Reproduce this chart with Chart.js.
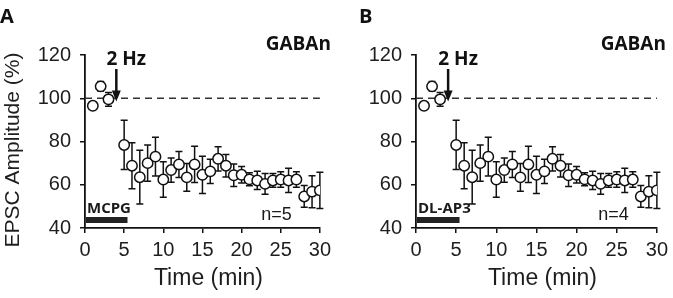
<!DOCTYPE html>
<html>
<head>
<meta charset="utf-8">
<script src="https://cdn.jsdelivr.net/npm/chart.js@4.4.1/dist/chart.umd.min.js"></script>
<style>
  html, body { margin: 0; padding: 0; background: #fff; }
  #wrap { position: relative; width: 673px; height: 298px; overflow: hidden; }
  .panel { position: absolute; top: 0; }
</style>
</head>
<body>
<div id="wrap">
  <div class="panel" style="left:0px"><canvas id="cA" width="336" height="298"></canvas></div>
  <div class="panel" style="left:336px"><canvas id="cB" width="337" height="298"></canvas></div>
</div>
<script>
// ---------- data ----------
const timeMin = [1, 2, 3, 5, 6, 7, 8, 9, 10, 11, 12, 13, 14, 15, 16, 17, 18, 19, 20, 21, 22, 23, 24, 25, 26, 27, 28, 29, 30];

// Panel A (MCPG, n=5)
const meanA = [96.5, 105.5, 99.5, 78.4, 68.8, 63.5, 70, 73, 62.4, 66.8, 69.4, 63.4, 69.4, 64.6, 66.2, 72, 68.8, 64.4, 64.6, 62.5, 62, 60.4, 62, 62.4, 62, 62.4, 54.6, 56.8, 57.4];
const semA  = [1.6, 2.2, 3.2, 11.4, 10.6, 12.4, 8.4, 9, 8.2, 5.6, 6, 6.4, 8.4, 8.6, 5.6, 5.6, 5.2, 5.2, 3.8, 3, 4.2, 4.8, 3.2, 3.6, 5.6, 3.6, 5, 7.4, 8.4];

// Panel B (DL-AP3, n=4)
const meanB = [96.5, 105.5, 99.5, 78.4, 68.8, 63.5, 70, 73, 62.4, 66.8, 69.4, 63.4, 69.4, 64.6, 66.2, 72, 68.8, 64.4, 64.6, 62.5, 62, 60.4, 62, 62.4, 62, 62.4, 54.6, 56.8, 57.4];
const semB  = [1.6, 2.2, 3.2, 11.4, 10.6, 12.4, 8.4, 9, 8.2, 5.6, 6, 6.4, 8.4, 8.6, 5.6, 5.6, 5.2, 5.2, 3.8, 3, 4.2, 4.8, 3.2, 3.6, 5.6, 3.6, 5, 7.4, 8.4];

const xTicks = [0, 5, 10, 15, 20, 25, 30];
const yTicks = [40, 60, 80, 100, 120];
const baseline = 100;
const stimTime = 4;           // "2 Hz" arrow position (min)
const drugPeriod = [0, 5.3];  // drug application bar (min)

// ---------- helpers ----------
const TXT = '#1e1e1e';
const SANS = '"Liberation Sans", Arial, sans-serif';
const BOLD = '"Open Sans", "Liberation Sans", sans-serif';

const errorBarPlugin = {
  id: 'errbars',
  beforeDatasetsDraw(chart, args, opts) {
    const ctx = chart.ctx, xs = chart.scales.x, ys = chart.scales.y;
    const ds = chart.data.datasets[opts.index];
    ctx.save();
    ctx.strokeStyle = '#111';
    ctx.lineWidth = 1.5;
    ds.data.forEach((p, i) => {
      const e = opts.err[i];
      const x = xs.getPixelForValue(p.x);
      const y1 = ys.getPixelForValue(p.y + e), y2 = ys.getPixelForValue(p.y - e);
      ctx.beginPath();
      ctx.moveTo(x, y1); ctx.lineTo(x, y2);
      ctx.moveTo(x - 3.5, y1); ctx.lineTo(x + 3.5, y1);
      ctx.moveTo(x - 3.5, y2); ctx.lineTo(x + 3.5, y2);
      ctx.stroke();
    });
    ctx.restore();
  }
};

const annotPlugin = {
  id: 'annot',
  afterDraw(chart, args, o) {
    const ctx = chart.ctx, xs = chart.scales.x, ys = chart.scales.y, ca = chart.chartArea;
    ctx.save();
    // drug bar
    const bx1 = xs.getPixelForValue(drugPeriod[0]), bx2 = xs.getPixelForValue(drugPeriod[1]);
    ctx.fillStyle = '#222';
    ctx.fillRect(bx1 + 1, ca.bottom - 11, bx2 - bx1, 6);
    // drug label
    ctx.fillStyle = '#1a1a1a';
    ctx.font = 'bold 15px ' + BOLD;
    ctx.textAlign = 'left'; ctx.textBaseline = 'alphabetic';
    ctx.fillText(o.drug, bx1 + 2, ca.bottom - 15);
    // n label
    ctx.font = '18px ' + SANS;
    ctx.textAlign = 'right';
    ctx.fillText(o.n, ca.right - 28, ca.bottom - 8);
    // arrow
    const ax = xs.getPixelForValue(stimTime);
    const tip = ys.getPixelForValue(baseline - 1.5);
    ctx.strokeStyle = '#111'; ctx.fillStyle = '#111';
    ctx.lineWidth = 2.5;
    ctx.beginPath(); ctx.moveTo(ax, 69); ctx.lineTo(ax, tip - 8); ctx.stroke();
    ctx.beginPath(); ctx.moveTo(ax - 4.5, tip - 11); ctx.lineTo(ax + 4.5, tip - 11); ctx.lineTo(ax, tip); ctx.closePath(); ctx.fill();
    // 2 Hz
    ctx.font = 'bold 19px ' + BOLD;
    ctx.textAlign = 'center'; ctx.textBaseline = 'alphabetic';
    ctx.fillText('2 Hz', ax + 10, 65);
    // GABAn
    ctx.font = 'bold 19px ' + BOLD;
    ctx.textAlign = 'right';
    ctx.fillText('GABAn', ca.right + o.gabaDx, 50);
    // panel letter
    ctx.font = 'bold 20px ' + BOLD;
    ctx.textAlign = 'left';
    ctx.fillText(o.letter, o.letterX, 23);
    // axis titles
    ctx.fillStyle = TXT;
    ctx.font = '23px ' + SANS;
    ctx.textAlign = 'center'; ctx.textBaseline = 'middle';
    ctx.fillText('Time (min)', (ca.left + ca.right) / 2 + 6, 279);
    if (o.yTitle) {
      ctx.save();
      ctx.translate(13, 150);
      ctx.rotate(-Math.PI / 2);
      ctx.font = '21px ' + SANS;
      ctx.fillText(o.yTitle, 0, 0);
      ctx.restore();
    }
    ctx.restore();
  }
};

function makeChart(id, mean, sem, geom, annot) {
  const pts = timeMin.map((t, i) => ({ x: t, y: mean[i] }));
  return new Chart(document.getElementById(id), {
    type: 'scatter',
    data: {
      datasets: [
        {
          data: pts,
          pointRadius: 5.2,
          pointBackgroundColor: '#fff',
          pointBorderColor: '#111',
          pointBorderWidth: 1.5,
          showLine: false,
          order: 1
        },
        {
          type: 'line',
          data: [{ x: 0, y: baseline }, { x: 30, y: baseline }],
          borderColor: '#333',
          borderWidth: 1.3,
          borderDash: [7, 5],
          pointRadius: 0,
          order: 2
        }
      ]
    },
    options: {
      responsive: false,
      devicePixelRatio: 1,
      animation: false,
      events: [],
      layout: { padding: { top: 55, right: geom.right, bottom: 0, left: 0 } },
      plugins: {
        legend: { display: false },
        tooltip: { enabled: false },
        errbars: { index: 0, err: sem },
        annot: annot
      },
      scales: {
        x: {
          type: 'linear', min: 0, max: 30,
          afterBuildTicks(s) { s.ticks = xTicks.map(v => ({ value: v })); },
          afterFit(s) { s.height = 70; },
          grid: { display: true, drawOnChartArea: false, drawTicks: true, tickLength: 5, color: '#111', lineWidth: 1.5 },
          border: { display: true, color: '#111', width: 1.8 },
          ticks: { color: TXT, font: { family: SANS, size: 20 }, padding: 5, maxRotation: 0 }
        },
        y: {
          type: 'linear', min: 40, max: 120,
          afterBuildTicks(s) { s.ticks = yTicks.map(v => ({ value: v })); },
          afterFit(s) { s.width = geom.left; },
          grid: { display: true, drawOnChartArea: false, drawTicks: true, tickLength: 5, color: '#111', lineWidth: 1.5 },
          border: { display: true, color: '#111', width: 1.8 },
          ticks: { color: TXT, font: { family: SANS, size: 20 }, padding: 9 }
        }
      }
    },
    plugins: [errorBarPlugin, annotPlugin]
  });
}

makeChart('cA', meanA, semA, { left: 85, right: 14 },
  { drug: 'MCPG', n: 'n=5', letter: 'A', letterX: 0, gabaDx: 11, yTitle: 'EPSC Amplitude (%)' });
makeChart('cB', meanB, semB, { left: 80, right: 12 },
  { drug: 'DL-AP3', n: 'n=4', letter: 'B', letterX: 23, gabaDx: 9, yTitle: null });
</script>
</body>
</html>
